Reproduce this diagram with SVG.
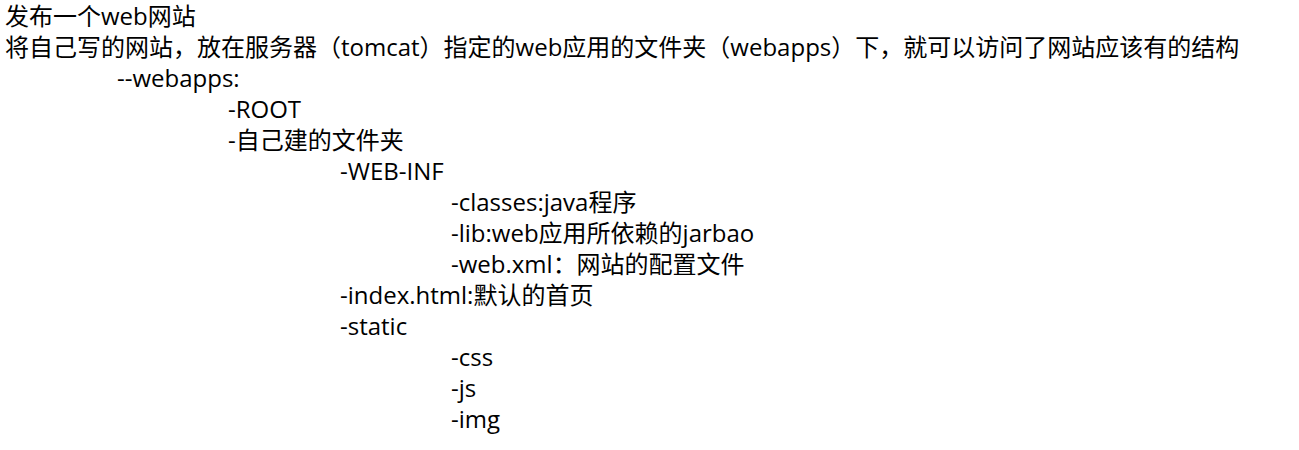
<svg xmlns="http://www.w3.org/2000/svg" width="1299" height="450" viewBox="0 0 1299 450">
<style>
text{font-family:"Open Sans","Noto Sans CJK SC",sans-serif;font-size:24px;fill:#000}
</style>
<rect width="1299" height="450" fill="#fff"/>
<g id="title"><text x="5" y="25">发布一个web网站</text></g>
<g id="desc"><text x="5" y="56">将自己写的网站，放在服务器（tomcat）指定的web应用的文件夹（webapps）下，就可以访问了网站应该有的结构</text></g>
<g id="webapps"><text x="117" y="87">--webapps:</text></g>
<g id="root"><text x="228" y="118">-ROOT</text></g>
<g id="folder"><text x="228" y="149">-自己建的文件夹</text></g>
<g id="webinf"><text x="340" y="180">-WEB-INF</text></g>
<g id="classes"><text x="451" y="211">-classes:java程序</text></g>
<g id="lib"><text x="451" y="242">-lib:web应用所依赖的jarbao</text></g>
<g id="webxml"><text x="451" y="273">-web.xml：网站的配置文件</text></g>
<g id="index"><text x="340" y="304">-index.html:默认的首页</text></g>
<g id="static"><text x="340" y="335">-static</text></g>
<g id="css"><text x="451" y="366">-css</text></g>
<g id="js"><text x="451" y="397">-js</text></g>
<g id="img"><text x="451" y="428">-img</text></g>
<g id="connectors"></g>
</svg>
